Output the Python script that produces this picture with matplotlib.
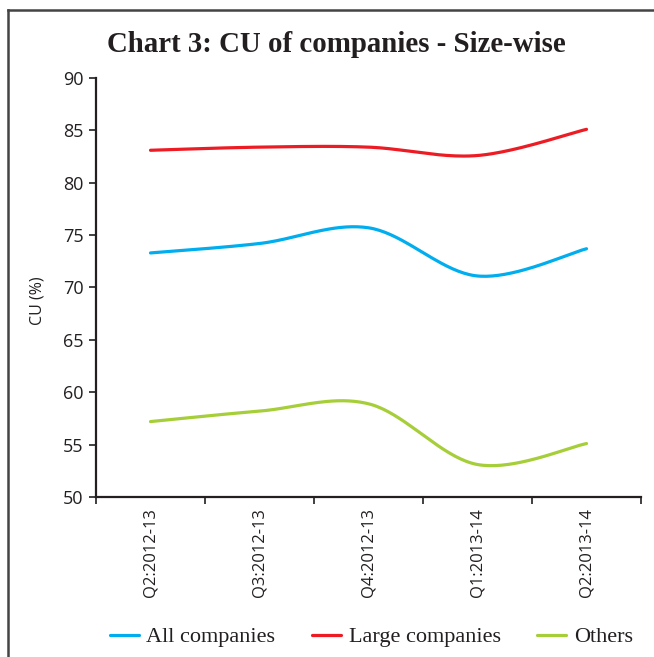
import numpy as np
import matplotlib
matplotlib.use("Agg")
import matplotlib.pyplot as plt
from matplotlib.lines import Line2D

categories = ["Q2:2012-13", "Q3:2012-13", "Q4:2012-13", "Q1:2013-14", "Q2:2013-14"]
all_companies = [73.3, 74.2, 75.7, 71.1, 73.7]
large_companies = [83.1, 83.4, 83.4, 82.6, 85.1]
others = [57.2, 58.2, 58.9, 53.1, 55.1]
yticks = [50, 55, 60, 65, 70, 75, 80, 85, 90]


def smooth(xs, ys, n=40):
    """Catmull-Rom style smoothing (like spreadsheet smoothed lines)."""
    xs = np.asarray(xs, float)
    ys = np.asarray(ys, float)
    px = np.concatenate([[xs[0]], xs, [xs[-1]]])
    py = np.concatenate([[ys[0]], ys, [ys[-1]]])
    ox, oy = [], []
    for i in range(1, len(px) - 2):
        p0x, p1x, p2x, p3x = px[i - 1], px[i], px[i + 1], px[i + 2]
        p0y, p1y, p2y, p3y = py[i - 1], py[i], py[i + 1], py[i + 2]
        c1x, c1y = p1x + (p2x - p0x) / 6, p1y + (p2y - p0y) / 6
        c2x, c2y = p2x - (p3x - p1x) / 6, p2y - (p3y - p1y) / 6
        t = np.linspace(0, 1, n)
        bx = (1 - t) ** 3 * p1x + 3 * (1 - t) ** 2 * t * c1x + 3 * (1 - t) * t ** 2 * c2x + t ** 3 * p2x
        by = (1 - t) ** 3 * p1y + 3 * (1 - t) ** 2 * t * c1y + 3 * (1 - t) * t ** 2 * c2y + t ** 3 * p2y
        ox.extend(bx)
        oy.extend(by)
    return np.array(ox), np.array(oy)


fig = plt.figure(figsize=(6.54, 6.57), dpi=100)
ax = fig.add_axes([96 / 654, 1 - 497 / 657, (641 - 96) / 654, (497 - 78) / 657])

x = np.arange(len(categories))
series = [
    ("All companies", all_companies, "#00AEEF"),
    ("Large companies", large_companies, "#ED1C24"),
    ("Others", others, "#A6CE39"),
]
handles = []
for name, vals, col in series:
    sx, sy = smooth(x, vals)
    ln, = ax.plot(sx, sy, color=col, lw=2.3, solid_capstyle="round", label=name)
    handles.append(ln)

ax.set_xlim(-0.5, len(categories) - 0.5)
ax.set_ylim(50, 90)
ax.set_yticks(yticks)
ax.set_yticklabels([str(v) for v in yticks], fontsize=13, family="Open Sans", color="#231F20")
ax.set_xticks(x)
ax.set_xticklabels(categories, rotation=90, fontsize=12, family="Open Sans", color="#231F20")
ax.set_xticks(np.arange(-0.5, len(categories), 1), minor=True)
ax.tick_params(axis="x", which="major", length=0, pad=8)
ax.tick_params(axis="x", which="minor", length=5, width=1.2, color="#231F20", direction="out")
ax.tick_params(axis="y", length=5, width=1.2, color="#231F20", direction="out", pad=4)
for s in ["top", "right"]:
    ax.spines[s].set_visible(False)
for s in ["left", "bottom"]:
    ax.spines[s].set_linewidth(1.6)
    ax.spines[s].set_color("#231F20")

fig.text(38 / 654, 1 - 301 / 657, "CU (%)", rotation=90, ha="center", va="center",
         fontsize=11.5, family="Open Sans", color="#231F20")

fig.text(0.514, 1 - 45 / 657, "Chart 3: CU of companies - Size-wise", ha="center", va="center",
         fontsize=20.8, fontweight="bold", family="Liberation Serif", color="#231F20")

fig.legend(handles=handles, loc="center", bbox_to_anchor=(0.568, 1 - 637 / 657), ncol=3,
           frameon=False, prop={"family": "Liberation Serif", "size": 16},
           handlelength=1.3, handletextpad=0.35, columnspacing=1.65, labelcolor="#231F20")

fig.add_artist(Line2D([8 / 654, 1], [1 - 10 / 657, 1 - 10 / 657], color="#444444", lw=1.8,
                      transform=fig.transFigure))
fig.add_artist(Line2D([8 / 654, 8 / 654], [0, 1 - 10 / 657], color="#444444", lw=1.8,
                      transform=fig.transFigure))

fig.savefig("out.png", dpi=100)
